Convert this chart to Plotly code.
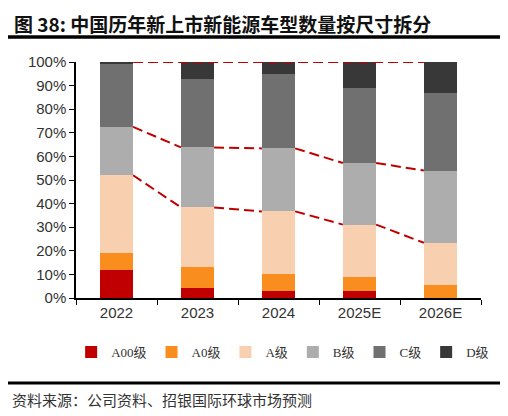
import plotly.graph_objects as go

years = ['2022', '2023', '2024', '2025E', '2026E']

# share of new NEV models by size class, %
a00 = [12.0, 4.4, 2.8, 2.8, 0.0]
a0 = [7.0, 8.6, 7.4, 6.1, 5.5]
a = [33.0, 25.4, 26.5, 22.2, 17.9]
b = [20.5, 25.4, 26.7, 26.1, 30.6]
c = [26.5, 29.1, 31.6, 31.6, 32.8]
d = [1.0, 7.1, 5.0, 11.2, 13.2]

names = ['A00级', 'A0级', 'A级', 'B级', 'C级', 'D级']
colors = ['#C00000', '#F98E1E', '#F8D0B0', '#ADADAD', '#707070', '#383838']

bar_w = 0.41
latin = 'Liberation Sans, Arial, sans-serif'
cjk = 'Noto Sans CJK SC'

fig = go.Figure()
for nm, vals, col in zip(names, [a00, a0, a, b, c, d], colors):
    fig.add_trace(go.Bar(x=years, y=vals, name=nm, width=bar_w,
                         marker=dict(color=col, line_width=0)))

# series lines between bars (cumulative tops of A and B, plus the 100% line)
cum_a = [p + q + r for p, q, r in zip(a00, a0, a)]
cum_b = [p + q for p, q in zip(cum_a, b)]
total = [p + q + r for p, q, r in zip(cum_b, c, d)]

line_style = dict(color='#C00000', width=2, dash='10px,5px')
for level in [cum_a, cum_b]:
    xs, ys = [], []
    for i in range(len(years) - 1):
        xs += [i + bar_w / 2, i + 1 - bar_w / 2, None]
        ys += [level[i], level[i + 1], None]
    fig.add_trace(go.Scatter(x=xs, y=ys, mode='lines', line=line_style,
                             xaxis='x2', showlegend=False, hoverinfo='skip'))
fig.add_trace(go.Scatter(x=[bar_w / 2, len(years) - 1 - bar_w / 2],
                         y=[total[0], total[-1]], mode='lines', line=line_style,
                         xaxis='x2', showlegend=False, hoverinfo='skip'))

# page has an 8px body margin, so the figure is 8px smaller than the window
fig.update_layout(
    width=500, height=408,
    margin=dict(l=68, r=27, t=54, b=118),
    paper_bgcolor='white', plot_bgcolor='white',
    barmode='stack',
    showlegend=True,
    legend=dict(orientation='h', x=-0.012, xanchor='left', y=-0.229, yanchor='middle',
                font=dict(family='Liberation Serif, ' + cjk, size=13, color='#333333'),
                itemwidth=30, traceorder='normal', tracegroupgap=0),
    xaxis=dict(type='category', tickson='boundaries', showline=True, linecolor='black',
               linewidth=1.5, ticks='outside', ticklen=5, tickcolor='black',
               tickfont=dict(family=latin, size=15, color='#333333'), range=[-0.5, 4.5]),
    xaxis2=dict(overlaying='x', range=[-0.5, 4.5], visible=False),
    yaxis=dict(range=[0, 100], dtick=10, ticksuffix='%', showgrid=False,
               showline=True, linecolor='black', linewidth=1.5, ticks='outside',
               ticklen=5, tickcolor='black', zeroline=False,
               tickfont=dict(family=latin, size=15, color='#333333')),
    annotations=[
        dict(text='<b>图 38: 中国历年新上市新能源车型数量按尺寸拆分</b>', xref='paper', yref='paper',
             x=-64 / 405, y=1 + 54 / 236, xanchor='left', yanchor='top',
             showarrow=False, font=dict(family=cjk, size=19, color='#111111')),
        dict(text='资料来源：公司资料、招银国际环球市场预测', xref='paper', yref='paper',
             x=-66 / 405, y=-101 / 236, xanchor='left', yanchor='middle',
             showarrow=False, font=dict(family=cjk, size=15, color='#333333')),
    ],
    shapes=[
        dict(type='line', xref='paper', yref='paper', x0=-71 / 405, x1=426 / 405,
             y0=1 + 25 / 236, y1=1 + 25 / 236, line=dict(color='black', width=3.5)),
        dict(type='line', xref='paper', yref='paper', x0=-71 / 405, x1=426 / 405,
             y0=-85 / 236, y1=-85 / 236, line=dict(color='black', width=3)),
    ],
)

fig.write_html('out.html')
